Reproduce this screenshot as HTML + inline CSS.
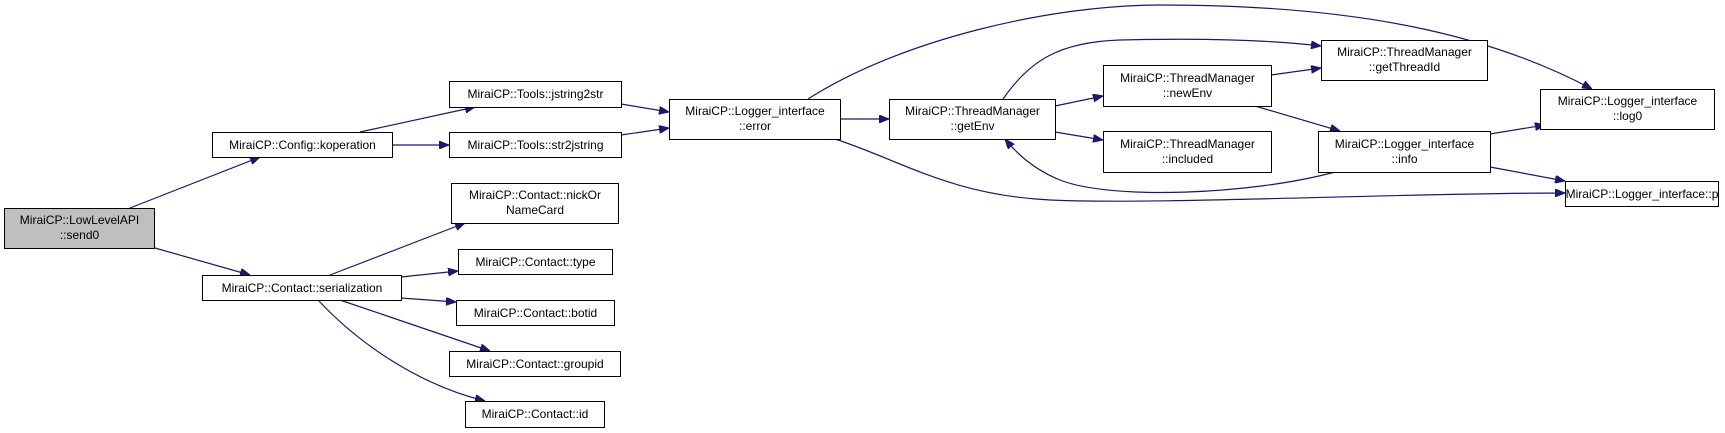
<!DOCTYPE html>
<html><head><meta charset="utf-8"><style>
html,body{margin:0;padding:0;background:#fff;}
svg{display:block;}
text{font-family:"Liberation Sans",Arial,sans-serif;font-size:12px;fill:#000;}
rect{fill:#fff;stroke:#000;stroke-width:1;}
path{fill:none;stroke:#191970;stroke-width:1.2;}
</style></head><body>
<svg width="1725" height="433" viewBox="0 0 1725 433" xmlns="http://www.w3.org/2000/svg">
<defs><marker id="a" viewBox="0 0 10 8" refX="10" refY="4" markerWidth="10" markerHeight="8" markerUnits="userSpaceOnUse" orient="auto"><path d="M0,0 L10,4 L0,8 Z" style="fill:#191970;stroke:#191970;stroke-width:1"/></marker></defs>
<g marker-end="url(#a)">
<path d="M130,208 L260,157"/>
<path d="M155,248 L250,275"/>
<path d="M392,145 L449,145"/>
<path d="M360,132 L475,107"/>
<path d="M621,104 L669,112"/>
<path d="M621,135 L669,128"/>
<path d="M840,119 L889,119"/>
<path d="M808,99 C900,40 1050,5 1160,5 C1360,5 1490,35 1592,89"/>
<path d="M835,139 C900,160 950,195 1050,200 C1150,205 1400,193 1565,193"/>
<path d="M1003,99 C1030,60 1060,42 1120,40 C1200,38 1270,40 1321,46"/>
<path d="M1055,106 L1103,96"/>
<path d="M1055,132 L1103,140"/>
<path d="M1271,75 L1321,68"/>
<path d="M1255,106 L1340,131"/>
<path d="M1335,172 C1250,195 1110,200 1060,180 C1035,170 1018,155 1005,139"/>
<path d="M1490,134 L1545,125"/>
<path d="M1490,167 L1565,181"/>
<path d="M330,275 L465,223"/>
<path d="M401,277 L458,271"/>
<path d="M401,298 L456,302"/>
<path d="M340,300 L490,351"/>
<path d="M318,300 C360,345 420,385 485,401"/>
</g>
<rect x="4.5" y="208.5" width="150" height="40" style="fill:#bfbfbf"/>
<text x="79.5" y="224" text-anchor="middle">MiraiCP::LowLevelAPI</text>
<text x="79.5" y="239" text-anchor="middle">::send0</text>
<rect x="212.5" y="132.5" width="180" height="25"/><text x="302.5" y="149" text-anchor="middle">MiraiCP::Config::koperation</text>
<rect x="202.5" y="275.5" width="199" height="25"/><text x="302" y="292" text-anchor="middle">MiraiCP::Contact::serialization</text>
<rect x="449.5" y="81.5" width="172" height="26"/><text x="535.5" y="98" text-anchor="middle">MiraiCP::Tools::jstring2str</text>
<rect x="449.5" y="132.5" width="172" height="25"/><text x="535.5" y="149" text-anchor="middle">MiraiCP::Tools::str2jstring</text>
<rect x="451.5" y="183.5" width="167" height="40"/><text x="535" y="199" text-anchor="middle">MiraiCP::Contact::nickOr</text><text x="535" y="214" text-anchor="middle">NameCard</text>
<rect x="458.5" y="249.5" width="154" height="25"/><text x="535.5" y="266" text-anchor="middle">MiraiCP::Contact::type</text>
<rect x="456.5" y="300.5" width="158" height="25"/><text x="535.5" y="317" text-anchor="middle">MiraiCP::Contact::botid</text>
<rect x="449.5" y="351.5" width="171" height="25"/><text x="535" y="368" text-anchor="middle">MiraiCP::Contact::groupid</text>
<rect x="465.5" y="401.5" width="139" height="26"/><text x="535" y="418" text-anchor="middle">MiraiCP::Contact::id</text>
<rect x="669.5" y="99.5" width="171" height="40"/><text x="755" y="115" text-anchor="middle">MiraiCP::Logger_interface</text><text x="755" y="130" text-anchor="middle">::error</text>
<rect x="889.5" y="99.5" width="166" height="40"/><text x="972.5" y="115" text-anchor="middle">MiraiCP::ThreadManager</text><text x="972.5" y="130" text-anchor="middle">::getEnv</text>
<rect x="1103.5" y="65.5" width="168" height="41"/><text x="1187.5" y="82" text-anchor="middle">MiraiCP::ThreadManager</text><text x="1187.5" y="97" text-anchor="middle">::newEnv</text>
<rect x="1103.5" y="131.5" width="168" height="41"/><text x="1187.5" y="148" text-anchor="middle">MiraiCP::ThreadManager</text><text x="1187.5" y="163" text-anchor="middle">::included</text>
<rect x="1321.5" y="40.5" width="166" height="40"/><text x="1404.5" y="56" text-anchor="middle">MiraiCP::ThreadManager</text><text x="1404.5" y="71" text-anchor="middle">::getThreadId</text>
<rect x="1318.5" y="131.5" width="172" height="41"/><text x="1404.5" y="148" text-anchor="middle">MiraiCP::Logger_interface</text><text x="1404.5" y="163" text-anchor="middle">::info</text>
<rect x="1540.5" y="89.5" width="174" height="40"/><text x="1627.5" y="105" text-anchor="middle">MiraiCP::Logger_interface</text><text x="1627.5" y="120" text-anchor="middle">::log0</text>
<rect x="1565.5" y="181.5" width="153" height="25"/><text x="1642" y="198" text-anchor="middle">MiraiCP::Logger_interface::p</text>
</svg>
</body></html>
